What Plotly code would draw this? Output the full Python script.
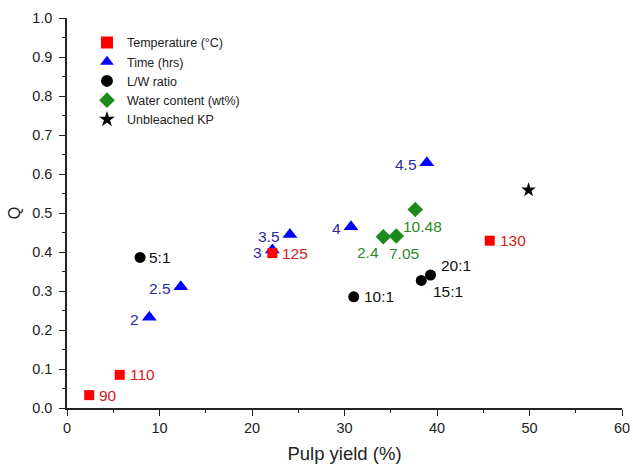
import plotly.graph_objects as go

# ---- data ----
temp_x = [2.4, 5.7, 22.2, 45.7]
temp_q = [0.033, 0.085, 0.397, 0.429]
temp_lbl = ["90", "110", "125", "130"]

time_x = [8.9, 12.3, 22.2, 24.1, 30.7, 38.9]
time_q = [0.233, 0.311, 0.405, 0.445, 0.465, 0.629]
time_lbl = ["2", "2.5", "3", "3.5", "4", "4.5"]

lw_x = [7.9, 31.0, 38.3, 39.3]
lw_q = [0.386, 0.285, 0.327, 0.341]
lw_lbl = ["5:1", "10:1", "15:1", "20:1"]

wc_x = [34.2, 35.6, 37.65]
wc_q = [0.439, 0.441, 0.509]
wc_lbl = ["2.4", "7.05", "10.48"]

kp_x = [49.9]
kp_q = [0.559]

FONT = "Arial, Liberation Sans, sans-serif"

fig = go.Figure()
fig.add_trace(go.Scatter(x=time_x, y=time_q, mode="markers", name="Time (hrs)",
                         marker=dict(symbol="triangle-up", size=13, color="#0000ff")))
fig.add_trace(go.Scatter(x=temp_x, y=temp_q, mode="markers", name="Temperature (°C)",
                         marker=dict(symbol="square", size=10, color="#ff0000")))
fig.add_trace(go.Scatter(x=lw_x, y=lw_q, mode="markers", name="L/W ratio",
                         marker=dict(symbol="circle", size=11, color="#000000")))
fig.add_trace(go.Scatter(x=wc_x, y=wc_q, mode="markers", name="Water content (wt%)",
                         marker=dict(symbol="diamond", size=12, color="#1e8a1e")))
fig.add_trace(go.Scatter(x=kp_x, y=kp_q, mode="markers", name="Unbleached KP",
                         marker=dict(symbol="star", size=11, color="#000000")))

# label styles
groups = [
    (temp_x, temp_q, temp_lbl, "#d42020", [(8, 0, "left")] * 4),
    (time_x, time_q, time_lbl, "#2b2ba8", [(-8, -2, "right")] * 6),
    (lw_x, lw_q, lw_lbl, "#111111", [(7, 0, "left"), (8, 0, "left"), (10, -11, "left"), (8, 10, "left")]),
    (wc_x, wc_q, wc_lbl, "#2e8a1f", [(-15, -16, "center"), (8, -17, "center"), (7, -17, "center")]),
]
for xs, qs, lbls, col, offs in groups:
    for x, q, t, (dx, dy, anc) in zip(xs, qs, lbls, offs):
        fig.add_annotation(x=x, y=q, text=t, showarrow=False, xanchor=anc, yanchor="middle",
                           xshift=dx, yshift=dy, font=dict(family=FONT, size=15.5, color=col))

fig.update_layout(
    width=633, height=467,
    margin=dict(l=67, r=11, t=18, b=59),
    paper_bgcolor="white", plot_bgcolor="white",
    font=dict(family=FONT, size=14, color="#222222"),
    showlegend=True,
    legend=dict(x=0.036, y=0.975, xanchor="left", yanchor="top",
                font=dict(family=FONT, size=12.5, color="#222222"),
                bgcolor="rgba(0,0,0,0)", traceorder="normal", tracegroupgap=0,
                itemsizing="constant"),
)
fig.update_xaxes(range=[0, 60], dtick=10, tick0=0, showgrid=False, zeroline=False, automargin=False,
                 showline=True, linecolor="#222222", linewidth=1.5,
                 ticks="outside", ticklen=6, tickwidth=1.2, tickcolor="#222222",
                 minor=dict(dtick=5, ticks="outside", ticklen=3, tickcolor="#222222", tickwidth=1.2, showgrid=False),
                 title=dict(text="Pulp yield (%)", font=dict(size=18.5), standoff=12),
                 tickfont=dict(size=14.5))
fig.update_yaxes(range=[0, 1.0], dtick=0.1, tick0=0, tickformat=".1f", showgrid=False, zeroline=False, automargin=False,
                 showline=True, linecolor="#222222", linewidth=1.5,
                 ticks="outside", ticklen=6, tickwidth=1.2, tickcolor="#222222",
                 minor=dict(dtick=0.05, ticks="outside", ticklen=3, tickcolor="#222222", tickwidth=1.2, showgrid=False),
                 title=dict(text="Q", font=dict(size=16), standoff=8),
                 ticklabelstandoff=4,
                 tickfont=dict(size=14.5))

order = ["Temperature (°C)", "Time (hrs)", "L/W ratio", "Water content (wt%)", "Unbleached KP"]
for i, name in enumerate(order):
    fig.update_traces(selector=dict(name=name), legendrank=i + 1)

fig.write_html("out.html")
